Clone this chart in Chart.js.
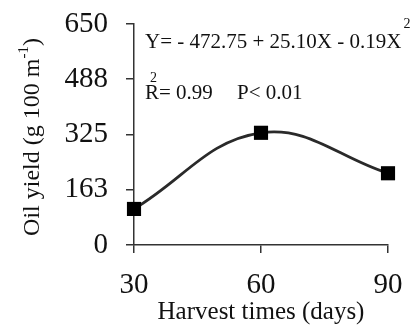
<!DOCTYPE html>
<html><head><meta charset="utf-8">
<script src="https://cdn.jsdelivr.net/npm/chart.js@4.4.0/dist/chart.umd.min.js"></script>
<style>html,body{margin:0;padding:0;background:#fff;}#wrap{width:411px;height:329px;}</style>
</head><body><div id="wrap"><canvas id="c" width="411" height="329"></canvas></div>
<script>
const harvestDays = [30, 60, 90];
const oilYield = [106, 330, 211];
const yTicks = [0, 163, 325, 488, 650];
const xTicks = [30, 60, 90];
const yTitle = ["Oil yield (g 100 m", "-1", ")"];
const xTitle = "Harvest times (days)";
const eqText = ["Y= - 472.75 + 25.10X - 0.19X", "2"];
const r2Text = ["R= 0.99", "2"];
const pText = "P< 0.01";

const FONT = "'Liberation Serif','Times New Roman',serif";
const INK = "#111";

const annot = {
  id: 'annot',
  afterDraw(chart) {
    const ctx = chart.ctx;
    ctx.save();
    ctx.fillStyle = INK;
    ctx.textBaseline = 'alphabetic';
    ctx.textAlign = 'left';
    // equation
    ctx.font = "21px " + FONT;
    ctx.fillText(eqText[0], 145, 48);
    const w = ctx.measureText(eqText[0]).width;
    ctx.font = "14px " + FONT;
    ctx.fillText(eqText[1], 145 + w + 2, 28);
    // R2
    ctx.font = "21px " + FONT;
    ctx.fillText(r2Text[0], 145, 99);
    ctx.font = "14px " + FONT;
    ctx.fillText(r2Text[1], 150, 82);
    ctx.font = "21px " + FONT;
    ctx.fillText(pText, 237, 99);
    // y title rotated
    ctx.translate(39, 137);
    ctx.rotate(-Math.PI / 2);
    ctx.font = "24px " + FONT;
    const a = ctx.measureText(yTitle[0]).width;
    ctx.font = "15px " + FONT;
    const b = ctx.measureText(yTitle[1]).width;
    ctx.font = "24px " + FONT;
    const c = ctx.measureText(yTitle[2]).width;
    const total = a + b + c;
    let x0 = -total / 2;
    ctx.fillText(yTitle[0], x0, 0);
    ctx.font = "15px " + FONT;
    ctx.fillText(yTitle[1], x0 + a, -11);
    ctx.font = "24px " + FONT;
    ctx.fillText(yTitle[2], x0 + a + b, 0);
    ctx.restore();
  }
};

new Chart(document.getElementById('c'), {
  type: 'scatter',
  data: {
    datasets: [{
      data: harvestDays.map((d, i) => ({x: d, y: oilYield[i]})),
      showLine: true,
      borderColor: '#2a2a2a',
      borderWidth: 2.8,
      tension: 0.4,
      pointStyle: 'rect',
      pointRadius: 10,
      pointHoverRadius: 10,
      pointBackgroundColor: '#000',
      pointBorderColor: '#000',
      pointBorderWidth: 0,
      clip: false
    }]
  },
  plugins: [annot],
  options: {
    responsive: false,
    animation: false,
    devicePixelRatio: 1,
    layout: {padding: {left: 0, top: 24, right: 23, bottom: 0}},
    plugins: {legend: {display: false}, tooltip: {enabled: false}},
    scales: {
      x: {
        type: 'linear', min: 30, max: 90,
        afterBuildTicks(s) { s.ticks = xTicks.map(v => ({value: v})); },
        afterFit(s) { s.height = 84; s.paddingLeft = 0; s.paddingRight = 0; },
        grid: {drawOnChartArea: false, drawTicks: true, tickLength: 8, color: '#333', lineWidth: 1.5},
        border: {display: true, color: '#333', width: 1.5},
        ticks: {color: INK, font: {family: FONT, size: 29}, padding: 15, maxRotation: 0},
        title: {display: true, text: xTitle, color: INK, font: {family: FONT, size: 25}, padding: {top: 0, bottom: 2}}
      },
      y: {
        min: 0, max: 650,
        afterBuildTicks(s) { s.ticks = yTicks.map(v => ({value: v})); },
        afterFit(s) { s.width = 134; s.paddingTop = 0; s.paddingBottom = 0; },
        grid: {drawOnChartArea: false, drawTicks: true, tickLength: 8, color: '#333', lineWidth: 1.5},
        border: {display: true, color: '#333', width: 1.5},
        ticks: {color: INK, font: {family: FONT, size: 29}, padding: 18}
      }
    }
  }
});
</script></body></html>
